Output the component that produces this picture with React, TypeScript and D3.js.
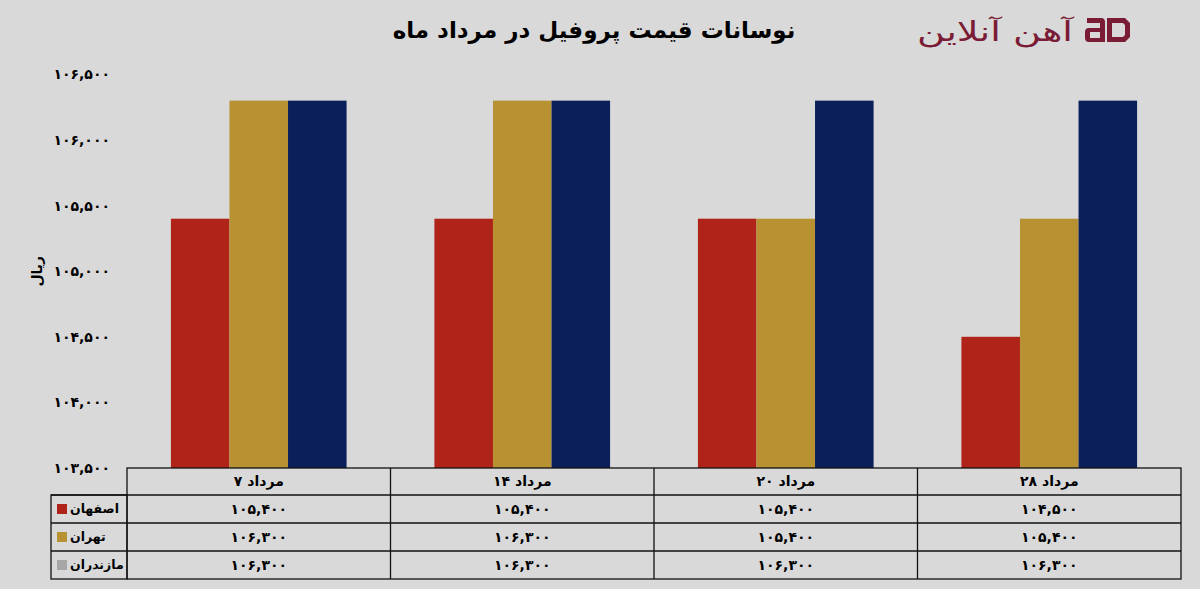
import React, { useEffect, useLayoutEffect, useRef } from "react";
import * as d3 from "d3";

// data
const days = [7, 14, 20, 28];
const monthName = "مرداد";
const seriesNames = ["اصفهان", "تهران", "مازندران"];
const esfahan = [105400, 105400, 105400, 104500];
const tehran = [106300, 106300, 105400, 105400];
const mazandaran = [106300, 106300, 106300, 106300];
const yTicks = [103500, 104000, 104500, 105000, 105500, 106000, 106500];

const barColors = ["#B02318", "#B89133", "#0B1F5B"];
const legendColors = ["#B02318", "#B89133", "#A6A6A6"];

const W = 1200;
const H = 589;
const FONT = "'DejaVu Sans', sans-serif";

const persianDigits = "۰۱۲۳۴۵۶۷۸۹";
const toFa = (s: string) => s.replace(/[0-9]/g, (c) => persianDigits[+c]);
const fmt = (v: number) => toFa(d3.format(",")(v));

export default function App() {
    const ref = useRef<SVGSVGElement>(null);

    useEffect(() => {
        document.body.style.margin = "0";
    }, []);

    // place mixed rtl/number labels by measuring, so bidi can't flip them
    useLayoutEffect(() => {
        const svg = d3.select(ref.current);
        svg.selectAll<SVGTextElement, unknown>("text.legend-label").each(function () {
            const w = this.getComputedTextLength();
            d3.select(this).attr("x", 70 + w / 2);
        });
        svg.selectAll<SVGGElement, unknown>("g.date-label").each(function () {
            const g = d3.select(this);
            const day = g.select<SVGTextElement>("text.day");
            const mon = g.select<SVGTextElement>("text.month");
            const dw = day.node()!.getComputedTextLength();
            const mw = mon.node()!.getComputedTextLength();
            const cx = +g.attr("data-cx");
            const gap = 5;
            const left = cx - (dw + gap + mw) / 2;
            day.attr("x", left + dw / 2);
            mon.attr("x", left + dw + gap + mw / 2);
        });
    }, []);

    const values = [esfahan, tehran, mazandaran];
    const dates = days.map(String);
    const m = { t: 74.4, b: 468, l: 127, r: 1181 };

    const x0 = d3.scaleBand<string>().domain(dates).range([m.l, m.r]).padding(0);
    const x1 = d3.scaleBand<string>()
        .domain(seriesNames)
        .range([0, x0.bandwidth()])
        .paddingInner(0)
        .paddingOuter(0.75);
    const y = d3.scaleLinear().domain([103500, 106500]).range([m.b, m.t]);

    const rowH = [27, 28, 28, 28];
    const tableTop = m.b;
    const rowY = d3.range(5).map((i) => tableTop + d3.sum(rowH.slice(0, i)));
    const legendLeft = 51;
    const cx = (d: string) => (x0(d) as number) + x0.bandwidth() / 2;
    const cy = (r: number) => (rowY[r] + rowY[r + 1]) / 2;

    return (
        <svg ref={ref} width={W} height={H} style={{ display: "block", background: "#D9D9D9" }} fontFamily={FONT}>
            <rect x={0} y={0} width={W} height={H} fill="#D9D9D9" />

            {/* title */}
            <text x={594} y={38} textAnchor="middle" fontSize={23} fontWeight="bold" fill="#000">
                نوسانات قیمت پروفیل در مرداد ماه
            </text>

            {/* logo */}
            <g fill="#7B1C36">
                <text x={995} y={41} textAnchor="middle" fontSize={27} textLength={156} lengthAdjust="spacingAndGlyphs">
                    آهن آنلاین
                </text>
                <path
                    fillRule="evenodd"
                    d="M1087,18 H1101 Q1105,18 1105,22 V42 H1089 Q1085,42 1085,38 V32 Q1085,28 1089,28 H1100 V23 H1087 Z M1090,32 V38 H1100 V32 Z"
                />
                <path
                    fillRule="evenodd"
                    d="M1107,18 H1125 L1130,23 V37 L1125,42 H1107 Z M1112,23 V37 H1123 L1125,35 V25 L1123,23 Z"
                />
            </g>

            {/* y axis labels */}
            {yTicks.map((t) => (
                <text key={t} x={110} y={y(t)} dy="0.35em" textAnchor="end" fontSize={14} fontWeight="bold" fill="#000">
                    {fmt(t)}
                </text>
            ))}
            <text transform={`translate(37,${y(105000)}) rotate(-90)`} textAnchor="middle" dy="0.35em" fontSize={14} fontWeight="bold" fill="#000">
                ریال
            </text>

            {/* bars */}
            {dates.map((d, i) => (
                <g key={d} transform={`translate(${x0(d)},0)`}>
                    {seriesNames.map((s, j) => (
                        <rect
                            key={s}
                            x={x1(s)}
                            y={y(values[j][i])}
                            width={x1.bandwidth()}
                            height={m.b - y(values[j][i])}
                            fill={barColors[j]}
                        />
                    ))}
                </g>
            ))}

            {/* data table */}
            <g stroke="#111" strokeWidth={1.3} fill="none">
                <rect x={m.l} y={rowY[0]} width={m.r - m.l} height={rowY[4] - rowY[0]} />
                <rect x={legendLeft} y={rowY[1]} width={m.l - legendLeft} height={rowY[4] - rowY[1]} />
                {rowY.slice(1, 4).map((ry, i) => (
                    <line key={i} x1={legendLeft} x2={m.r} y1={ry} y2={ry} />
                ))}
                {dates.slice(1).map((d) => (
                    <line key={d} x1={x0(d)} x2={x0(d)} y1={rowY[0]} y2={rowY[4]} />
                ))}
            </g>
            {dates.map((d) => (
                <g key={d} className="date-label" data-cx={cx(d)} fontSize={14} fontWeight="bold" fill="#000">
                    <text className="day" x={cx(d) - 22} y={cy(0)} dy="0.35em" textAnchor="middle">
                        {toFa(d)}
                    </text>
                    <text className="month" x={cx(d) + 6} y={cy(0)} dy="0.35em" textAnchor="middle">
                        {monthName}
                    </text>
                </g>
            ))}
            {seriesNames.map((s, j) => (
                <g key={s}>
                    <rect x={57} y={cy(j + 1) - 5} width={10} height={10} fill={legendColors[j]} />
                    <text className="legend-label" x={92} y={cy(j + 1)} dy="0.35em" textAnchor="middle" fontSize={12.5} fontWeight="bold" fill="#000">
                        {s}
                    </text>
                    {dates.map((d, i) => (
                        <text key={d} x={cx(d)} y={cy(j + 1)} dy="0.35em" textAnchor="middle" fontSize={14} fontWeight="bold" fill="#000">
                            {fmt(values[j][i])}
                        </text>
                    ))}
                </g>
            ))}
        </svg>
    );
}
